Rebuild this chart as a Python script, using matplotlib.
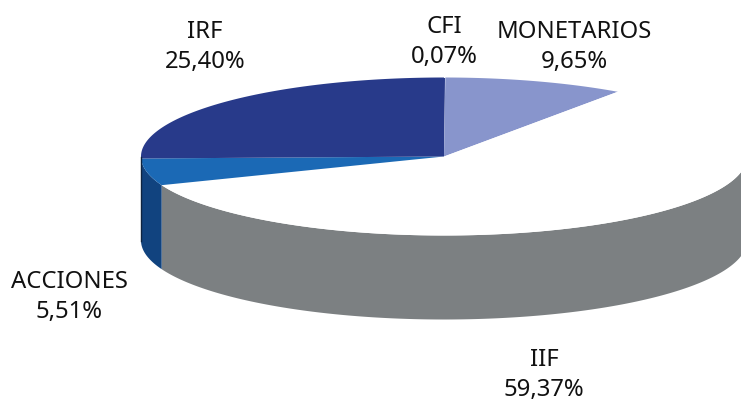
import matplotlib
matplotlib.use("Agg")
import matplotlib.pyplot as plt
import numpy as np

labels = ["CFI", "MONETARIOS", "IIF", "ACCIONES", "IRF"]
values = [0.07, 9.65, 59.37, 5.51, 25.40]
top_colors = ["#283a8a", "#8895cc", "#ffffff", "#1b69b5", "#283a8a"]
side_colors = ["#283a8a", "#6d78a8", "#7c8082", "#11437f", "#1f2d6c"]
text_pos = [(444, 42), (574, 47), (544, 375), (69, 297), (205, 47)]

cx, cy = 444, 157.5
rx, ry = 303, 79
depth = 84

plt.rcParams['font.family'] = ['Noto Sans', 'DejaVu Sans']

fig = plt.figure(figsize=(7.41, 4.02), dpi=100)
ax = fig.add_axes([0, 0, 1, 1])
ax.set_xlim(0, 741)
ax.set_ylim(402, 0)
ax.axis("off")


def rim(a0, a1, n=200):
    # angles run clockwise from 12 o'clock
    t = np.linspace(a0, a1, n)
    return cx + rx * np.sin(t), cy - ry * np.cos(t)


fracs = np.array(values) / sum(values) * 2 * np.pi
edges = np.concatenate([[0], np.cumsum(fracs)])

# side wall, only the front half shows
for i in range(len(values)):
    a0 = max(edges[i], np.pi / 2)
    a1 = min(edges[i + 1], 3 * np.pi / 2)
    if a1 <= a0:
        continue
    x, y = rim(a0, a1)
    ax.fill(np.r_[x, x[::-1]], np.r_[y, y[::-1] + depth],
            color=side_colors[i], lw=0)

# dark edge on the far left of the wall
x, y = rim(3 * np.pi / 2, 3 * np.pi / 2, 2)
ax.plot(x, [y[0], y[0] + depth], color="#0f2440", lw=1.0)

# top face
for i in range(len(values)):
    x, y = rim(edges[i], edges[i + 1])
    ax.fill(np.r_[cx, x], np.r_[cy, y], color=top_colors[i], lw=0)

for lab, val, (tx, ty) in zip(labels, values, text_pos):
    txt = "%s\n%.2f%%" % (lab, val)
    ax.text(tx, ty, txt.replace(".", ","), ha="center", va="center",
            fontsize=17.2, color="#111111", linespacing=1.35)

fig.savefig("out.png", dpi=100)
